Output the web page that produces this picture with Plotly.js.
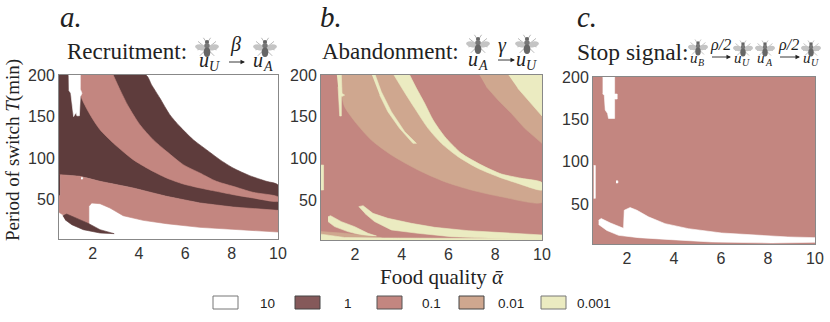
<!DOCTYPE html>
<html>
<head>
<meta charset="utf-8">
<script src="https://cdn.plot.ly/plotly-3.0.1.min.js"></script>
<style>body{margin:0;background:#fff}</style>
</head>
<body>
<div id="target" style="width:830px;height:322px"></div>
<script>
var W = 830, H = 322;
var DARK = '#5e3c3c', PINK = '#c38680', TAN = '#cfa78f', CREAM = '#ebebc1', WHITE = '#ffffff';

// legend
var legendLabels = ['10', '1', '0.1', '0.01', '0.001'];
var legendColors = ['#ffffff', '#85595a', '#c38680', '#cfa78f', '#ebebc1'];

// panel a: regions, alpha / T
var aOuterX = [4.30, 4.54, 4.90, 5.33, 5.76, 6.34, 6.91, 7.49, 8.06, 8.78, 9.50, 10];
var aOuterY = [200, 188.4, 172.4, 152.4, 138.3, 122.3, 110.3, 98.3, 88.3, 79.1, 72.3, 67.9];
var aBandRightX = [2.89, 3.18, 3.54, 4.04, 4.61, 5.19, 5.91, 6.63, 7.34, 8.06, 8.92, 10];
var aBandRightY = [200, 182.4, 162.4, 140.3, 122.3, 108.3, 92.3, 82.3, 72.3, 66.3, 59.1, 53.5];
var aBandLeftX = [1.45, 1.50, 1.89, 2.32, 2.89, 3.75, 4.47, 5.19, 5.91, 6.63, 7.34, 8.06, 8.92, 10];
var aBandLeftY = [200, 174.4, 152.4, 134.3, 118.3, 98.3, 86.3, 76.3, 69.1, 64.3, 60.3, 56.3, 52.3, 48.3];
var aLowTopX = [0.55, 1.45, 2.32, 3.75, 5.19, 6.63, 8.06, 10];
var aLowTopY = [80.3, 78.3, 72.3, 64.3, 54.3, 46.3, 41.4, 37.4];
var aLowBottomX = [10, 8.06, 6.63, 5.19, 4.18, 3.32, 2.75, 2.32, 1.96, 1.84, 1.84, 1.45, 0.88, 0.71, 0.55];
var aLowBottomY = [11.4, 14.2, 17.0, 21.4, 25.4, 31.0, 40.2, 45.4, 46.2, 42.2, 20.2, 26.2, 32.2, 32.2, 35.0];
var aSliverX = [0.71, 0.88, 1.45, 1.84, 2.32, 2.93, 2.32, 1.60, 1.10, 0.81];
var aSliverY = [31, 33, 26.2, 21.4, 14.2, 9.4, 10.2, 14.2, 20.2, 26.2];
var aNotchX = [0.96, 1.47, 1.47, 1.54, 1.47, 1.43, 1.32, 1.29, 1.18, 1.14, 1.06, 0.97];
var aNotchY = [200, 200, 183, 178, 174, 151, 151, 155, 150, 160, 178, 182];
var aDotX = [1.50, 1.57, 1.57, 1.50];
var aDotY = [77, 77, 75, 75];

// panel b
var bTanLowX = [1.35, 1.42, 1.56, 2.06, 2.70, 3.56, 4.70, 5.84, 6.98, 8.26, 10];
var bTanLowY = [200, 178.1, 162.2, 142.3, 122.4, 104.5, 86.6, 72.6, 62.7, 54.7, 48];
var bCreamHighX = [4.34, 4.63, 4.98, 5.34, 5.84, 6.55, 7.41, 8.26, 9.12, 10];
var bCreamHighY = [200, 184.1, 166.2, 146.3, 126.4, 106.5, 92.5, 81.8, 76.6, 71.4];
var bCreamLowX = [10, 8.97, 8.12, 7.26, 6.41, 5.70, 5.13, 4.56, 4.06, 3.67];
var bCreamLowY = [62.7, 70.6, 78.6, 88.6, 102.5, 118.4, 136.3, 160.2, 182.1, 200];
var bStreakX = [2.73, 2.87, 3.13, 3.56, 4.13, 4.63, 4.48, 3.91, 3.41, 3.06];
var bStreakY = [200, 200, 180, 156.2, 132.3, 118.4, 118.4, 136.3, 156.2, 176.1];
var bSmallX = [1.23, 1.42, 1.45, 1.56, 1.42, 1.42, 1.35, 1.28];
var bSmallY = [200, 200, 178, 176, 174, 151, 151, 186];
var bEdgeX = [0.55, 0.66, 0.66, 0.55];
var bEdgeY = [92.5, 92.5, 62.7, 62.7];
var bCornerTanX = [7.33, 10, 10, 9.26, 8.69, 8.12, 7.62];
var bCornerTanY = [200, 200, 118.4, 136.3, 154.2, 170.2, 186];
var bCornerCreamX = [8.57, 10, 10, 9.40, 8.97];
var bCornerCreamY = [200, 200, 151, 170.2, 184];
var bBand2X = [2.16, 2.35, 2.77, 3.41, 4.41, 5.41, 6.84, 8.26, 10, 10, 7.55, 6.12, 4.70, 3.56, 2.84, 2.42];
var bBand2Y = [42.8, 44, 34.8, 28.9, 22.9, 18.1, 14.1, 11.7, 9, 3, 5, 7, 11, 15, 25, 34.8];
var bBand1X = [0.85, 0.96, 1.42, 1.99, 2.56, 2.92, 2.42, 1.70, 1.13, 0.85];
var bBand1Y = [30.8, 32, 24.9, 18.9, 11, 7.8, 7.8, 13, 19, 25];
var bTanFootX = [0.55, 1.56, 2.56, 3.13, 1.56, 0.55];
var bTanFootY = [13, 11, 7.8, 6, 6, 10];
var bFootX = [0.55, 1.56, 3.27, 4.98, 7.26, 10, 10, 0.55];
var bFootY = [10, 6, 5.4, 5, 4.5, 4.5, 3, 3];

// panel c
var cNotchX = [0.96, 1.47, 1.47, 1.58, 1.58, 1.47, 1.47, 1.21, 1.17, 1.07, 1.03, 0.96];
var cNotchY = [200, 200, 179.9, 179.9, 174, 174, 151.1, 151.1, 157, 161, 178.7, 180];
var cStripX = [0.58, 0.65, 0.65, 0.58];
var cStripY = [95.6, 95.6, 56.9, 56.9];
var cDotX = [1.53, 1.61, 1.61, 1.53];
var cDotY = [77.5, 77.5, 75, 75];
var cLowX = [0.79, 0.90, 1.29, 1.85, 1.88, 2.13, 2.42, 2.91, 3.62, 4.61, 6.02, 7.44, 8.85, 10, 10, 8.15, 5.60, 3.90, 2.49, 1.64, 1.14, 0.79];
var cLowY = [31, 33, 27.8, 21.5, 42.8, 46, 42.8, 35, 27, 21.1, 16, 13.2, 11.3, 10.5, 5, 4.2, 5.4, 8.1, 10.5, 13.2, 19, 26];

var xFull = [0.55, 10, 10, 0.55];
var yFull = [200, 200, 3, 3];

function region(ax, xs, ys, color, smooth) {
  return {
    x: xs, y: ys, xaxis: 'x' + ax, yaxis: 'y' + ax,
    type: 'scatter', mode: 'lines', fill: 'toself', fillcolor: color,
    line: {width: 0.6, color: color, shape: smooth ? 'spline' : 'linear', smoothing: 0.7},
    hoverinfo: 'skip', showlegend: false
  };
}
function rev(a) { return a.slice().reverse(); }

var traces = [
  // a
  region('', [0.55].concat(aOuterX, rev(aLowTopX)), [200].concat(aOuterY, rev(aLowTopY)), DARK, true),
  region('', [0.55, 0.6, 0.6, 0.55], [80.3, 80.3, 55, 55], DARK),
  region('', aBandLeftX.concat(rev(aBandRightX)), aBandLeftY.concat(rev(aBandRightY)), PINK, true),
  region('', [0.6].concat(aLowTopX.slice(1), aLowBottomX, [0.55, 0.55, 0.6]), [80.3].concat(aLowTopY.slice(1), aLowBottomY, [35, 55, 55]), PINK),
  region('', aSliverX, aSliverY, DARK),
  region('', aNotchX, aNotchY, WHITE),
  region('', aDotX, aDotY, WHITE),
  // b
  region('2', xFull, yFull, PINK),
  region('2', bTanLowX.concat(rev(bCreamHighX)), bTanLowY.concat(rev(bCreamHighY)), TAN, true),
  region('2', bCreamHighX.concat(bCreamLowX), bCreamHighY.concat(bCreamLowY), CREAM, true),
  region('2', bStreakX, bStreakY, CREAM),
  region('2', bSmallX, bSmallY, CREAM),
  region('2', bEdgeX, bEdgeY, CREAM),
  region('2', bCornerTanX, bCornerTanY, TAN),
  region('2', bCornerCreamX, bCornerCreamY, CREAM),
  region('2', bBand2X, bBand2Y, CREAM),
  region('2', bBand1X, bBand1Y, CREAM),
  region('2', bTanFootX, bTanFootY, TAN),
  region('2', bFootX, bFootY, CREAM),
  // c
  region('3', xFull, yFull, PINK),
  region('3', cNotchX, cNotchY, WHITE),
  region('3', cStripX, cStripY, WHITE),
  region('3', cDotX, cDotY, WHITE),
  region('3', cLowX, cLowY, WHITE)
];

var SERIF = 'Liberation Serif, serif', SANS = 'Liberation Sans, Arial, sans-serif';
var beeSvg = '<svg xmlns="http://www.w3.org/2000/svg" viewBox="0 0 40 40">' +
  '<g stroke="#888" stroke-width="1" fill="none"><path d="M16 18 L5 9M24 18 L35 9M16 21 L4 23M24 21 L36 23M16 25 L8 33M24 25 L32 33M18 9 L14 3M22 9 L26 3"/></g>' +
  '<ellipse cx="10" cy="19" rx="10" ry="5" fill="#c4c4c4" transform="rotate(12 10 19)"/>' +
  '<ellipse cx="30" cy="19" rx="10" ry="5" fill="#c4c4c4" transform="rotate(-12 30 19)"/>' +
  '<circle cx="20" cy="10" r="3.5" fill="#666"/><ellipse cx="20" cy="16" rx="4.5" ry="4.5" fill="#777"/>' +
  '<ellipse cx="20" cy="27" rx="5.5" ry="8" fill="#666"/></svg>';
var beeUrl = 'data:image/svg+xml;charset=utf-8,' + encodeURIComponent(beeSvg);

function bee(cx, cy, size) {
  return {source: beeUrl, xref: 'paper', yref: 'paper', x: cx / W, y: 1 - cy / H,
    sizex: size / W, sizey: size / H, xanchor: 'center', yanchor: 'middle', layer: 'above'};
}
function label(x, y, text, size, font, anchor, angle) {
  return {text: text, xref: 'paper', yref: 'paper', x: x / W, y: 1 - y / H, showarrow: false,
    xanchor: anchor || 'left', yanchor: 'middle', textangle: angle || 0, borderpad: 0,
    font: {family: font || SERIF, size: size, color: '#222'}};
}
function ital(x, y, text, size, anchor) {
  var a = label(x, y, text, size, SERIF, anchor);
  a.font.style = 'italic';
  return a;
}
function arrow(x0, x1, y) {
  return {text: ' ', xref: 'paper', yref: 'paper', x: x1 / W, y: 1 - y / H, ax: x0 - x1, ay: 0,
    showarrow: true, arrowhead: 2, arrowsize: 1, arrowwidth: 0.9, arrowcolor: '#222'};
}

var annotations = [
  ital(59, 17, 'a.', 29), ital(319, 17, 'b.', 29), ital(576, 17, 'c.', 29),
  label(66, 52, 'Recruitment:', 23),
  ital(198, 60, 'u', 20), ital(208, 66, 'U', 14),
  arrow(226, 245, 62), ital(235, 45, 'β', 20, 'center'),
  ital(252, 60, 'u', 20), ital(262, 66, 'A', 14),
  label(321, 52, 'Abandonment:', 23),
  ital(467, 59, 'u', 20), ital(477, 65, 'A', 14),
  arrow(495, 515, 60), ital(502, 46, 'γ', 20, 'center'),
  ital(515, 59, 'u', 20), ital(525, 65, 'U', 14),
  label(576, 52, 'Stop signal:', 23.5),
  ital(689, 58, 'u', 15), ital(697, 63, 'B', 10),
  arrow(709, 731, 57), ital(720, 45, 'ρ/2', 16, 'center'),
  ital(733, 58, 'u', 15), ital(741, 63, 'U', 10),
  ital(756, 58, 'u', 15), ital(764, 63, 'A', 10),
  arrow(777, 800, 57), ital(788, 45, 'ρ/2', 16, 'center'),
  ital(802, 58, 'u', 15), ital(810, 63, 'U', 10),
  label(13, 150, 'Period of switch <i>T</i>(min)', 19, SERIF, 'center', -90),
  label(442, 277, 'Food quality <i>ᾱ</i>', 21, SERIF, 'center')
];

var images = [bee(207, 48, 24), bee(265, 48, 24), bee(478, 45, 24), bee(527, 45, 24),
  bee(698, 48, 20), bee(743, 49, 20), bee(765, 49, 20), bee(811, 49, 20)];

var swatchLeft = [213, 295, 377, 459, 541];
var labelMid = [267, 348, 431, 511, 594];
var swatchLine = ['#777', '#444', '#555', '#444', '#777'];
var shapes = [];
for (var i = 0; i < legendLabels.length; i++) {
  shapes.push({type: 'rect', xref: 'paper', yref: 'paper',
    x0: swatchLeft[i] / W, x1: (swatchLeft[i] + 25) / W, y0: 1 - 309 / H, y1: 1 - 296 / H,
    fillcolor: legendColors[i], line: {color: swatchLine[i], width: 1}});
  annotations.push(label(labelMid[i], 303, legendLabels[i], 13.5, SANS, 'center'));
}

function xAxis(left, right, anchor) {
  return {domain: [left / W, right / W], range: [0.55, 10], anchor: anchor,
    tickvals: [2, 4, 6, 8, 10], showgrid: false, zeroline: false, showline: true, mirror: true,
    linecolor: '#888', linewidth: 1, ticks: '', tickfont: {family: SANS, size: 16, color: '#333'}, fixedrange: true};
}
function yAxis(top, bottom, anchor) {
  return {domain: [1 - bottom / H, 1 - top / H], range: [3, 200], anchor: anchor,
    tickvals: [50, 100, 150, 200], showgrid: false, zeroline: false, showline: true, mirror: true,
    linecolor: '#888', linewidth: 1, ticks: '', tickfont: {family: SANS, size: 16, color: '#333'}, fixedrange: true};
}

var layout = {
  width: W, height: H, margin: {l: 0, r: 0, t: 0, b: 0},
  paper_bgcolor: '#fff', plot_bgcolor: '#fff', showlegend: false,
  xaxis: xAxis(59, 278, 'y'), yaxis: yAxis(75, 239, 'x'),
  xaxis2: xAxis(321, 542, 'y2'), yaxis2: yAxis(75, 240, 'x2'),
  xaxis3: xAxis(593, 815, 'y3'), yaxis3: yAxis(77, 244, 'x3'),
  annotations: annotations, images: images, shapes: shapes
};

Plotly.newPlot('target', traces, layout, {displayModeBar: false, staticPlot: true});
</script>
</body>
</html>
